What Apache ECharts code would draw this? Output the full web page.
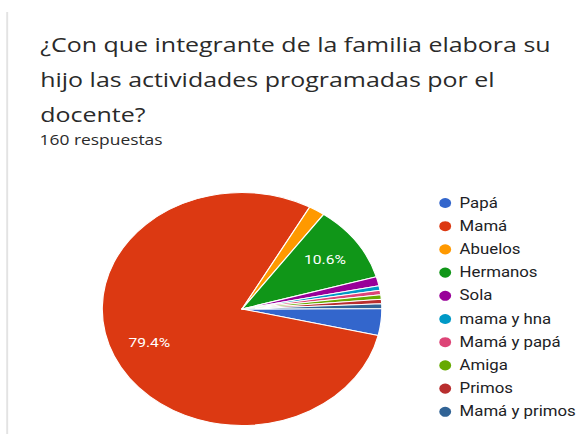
<!DOCTYPE html>
<html>
<head>
<meta charset="utf-8">
<script src="https://cdn.jsdelivr.net/npm/echarts@6/dist/echarts.min.js"></script>
<style>
  html, body { margin: 0; padding: 0; background: #ffffff; overflow: hidden; }
  #wrap { width: 578px; height: 434px; overflow: hidden; position: relative; }
  #chart { width: 482px; height: 434px; transform: scaleX(1.2); transform-origin: 0 0; }
</style>
</head>
<body>
<div id="wrap"><div id="chart"></div></div>
<script>
// Data (160 respuestas)
const categories = ['Papá', 'Mamá', 'Abuelos', 'Hermanos', 'Sola', 'mama y hna', 'Mamá y papá', 'Amiga', 'Primos', 'Mamá y primos'];
const counts = [6, 127, 3, 17, 2, 1, 1, 1, 1, 1];
const colors = ['#3366cc', '#dc3912', '#ff9900', '#109618', '#990099', '#0099c6', '#dd4477', '#66aa00', '#b82e2e', '#316395'];
const titleLines = ['¿Con que integrante de la familia elabora su', 'hijo las actividades programadas por el', 'docente?'];
const subtitleText = '160 respuestas';

const total = counts.reduce((a, b) => a + b, 0);
const pieData = categories.map((name, i) => ({ name: name, value: counts[i], itemStyle: { color: colors[i] } }));
const labelData = categories.map((name, i) => ({ name: name, value: counts[i] }));

const FONT = 'Roboto, "Noto Sans", sans-serif';
const TFONT = '"Open Sans", Roboto, sans-serif';
const chart = echarts.init(document.getElementById('chart'), null, { renderer: 'svg' });

const lineTops = [31, 66, 101];
const titles = titleLines.map((t, i) => ({
  text: t, left: 33.5, top: lineTops[i], padding: 0,
  textStyle: { fontFamily: TFONT, fontSize: 20.8, fontWeight: 'normal', color: '#2a2a2a', lineHeight: 26 }
}));
titles.push({
  text: subtitleText, left: 33, top: 131, padding: 0,
  textStyle: { fontFamily: TFONT, fontSize: 14.5, fontWeight: 'normal', color: '#2a2a2a', lineHeight: 18 }
});

chart.setOption({
  animation: false,
  title: titles,
  legend: {
    orient: 'vertical',
    left: 364, top: 196, padding: 0,
    icon: 'circle',
    itemWidth: 12, itemHeight: 12, itemGap: 9.2,
    data: categories,
    selectedMode: false,
    textStyle: { fontFamily: FONT, fontSize: 14, color: '#202124', lineHeight: 14, padding: [0, 0, 0, 1] }
  },
  graphic: [
    { type: 'line', shape: { x1: 6, y1: 12, x2: 6, y2: 434 }, style: { stroke: '#e3e3e3', lineWidth: 1.6 }, silent: true }
  ],
  series: [
    {
      type: 'pie',
      center: [201.7, 309],
      radius: [0, 116.5],
      startAngle: 0.3,
      clockwise: true,
      data: pieData,
      label: { show: false },
      labelLine: { show: false },
      itemStyle: { borderColor: '#ffffff', borderWidth: 1 },
      emphasis: { disabled: true }
    },
    {
      type: 'pie',
      center: [201.7, 309],
      radius: [46.6, 116.5],
      startAngle: 0.3,
      clockwise: true,
      silent: true,
      legendHoverLink: false,
      data: labelData,
      itemStyle: { color: 'rgba(0,0,0,0)', borderWidth: 0 },
      labelLine: { show: false },
      label: {
        show: true,
        position: 'inside',
        fontFamily: FONT,
        fontSize: 13,
        color: '#ffffff',
        formatter: function (p) {
          const pct = p.value / total * 100;
          return pct >= 5 ? pct.toFixed(1) + '%' : '';
        }
      },
      emphasis: { disabled: true }
    }
  ]
});
</script>
</body>
</html>
